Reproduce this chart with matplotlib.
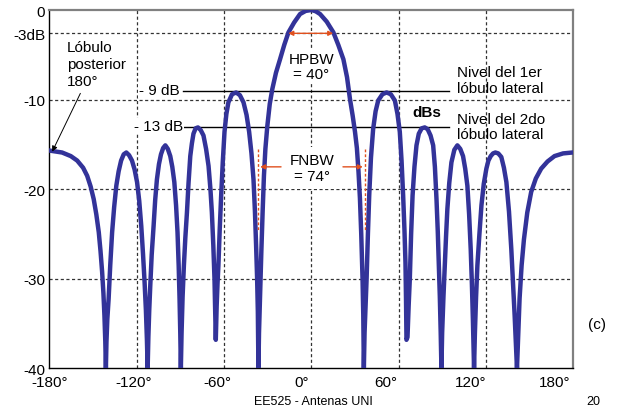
import numpy as np
import matplotlib
matplotlib.use('Agg')
import matplotlib.pyplot as plt

plt.rcParams['font.family'] = ['Liberation Sans', 'DejaVu Sans']

# Pattern: angle (deg) and level (dB)
tail_left_ang = [-180, -172, -166, -161.6, -157.5, -154.7, -152.3, -150.2, -148.4, -146.7,
                 -145.5, -144.4, -143.5, -142.8, -142.2, -141.8]
tail_left_db = [-15.7, -15.9, -16.3, -16.8, -17.6, -18.5, -19.7, -21.1, -22.8, -24.8,
                -26.9, -29.2, -31.6, -34.1, -37, -40]

lobe_l5_ang = [-141.4, -140.8, -139.9, -138.8, -137.5, -136.1, -134.6, -133, -131.3, -129.5, -127.7,
               -125.8, -123.8, -122, -120.3, -118.8, -117.4, -116.2, -115.1, -114.2, -113.5, -113.0]
lobe_l5_db = [-37, -34.5, -32.2, -28.5, -24.8, -22, -19.6, -18, -16.8, -16.1, -15.9,
              -16.2, -16.8, -17.8, -19.2, -21.3, -24.1, -27.2, -30.4, -33.5, -36.8, -40]

lobe_l4_ang = [-112.5, -111.9, -111.2, -110.2, -108.9, -107.8, -106.6, -105.2, -103.8, -102.3, -100.8,
               -99.1, -97.4, -96, -94.6, -93.4, -92.4, -91.6, -91.0, -90.5, -90.1]
lobe_l4_db = [-36.5, -33.5, -30.8, -27.3, -24.1, -21.2, -18.9, -17.2, -16.1, -15.4, -15.1,
              -15.5, -16.3, -17.5, -19.2, -21.8, -24.8, -28.5, -32.2, -36, -40]

lobe_l3_ang = [-89.6, -88.9, -88, -87, -85.9, -84.8, -83.6, -82.5, -81.4, -79.9, -78.3,
               -76.4, -74.5, -72.7, -71.0, -69.7, -68.7, -67.7, -66.9, -66.4, -66.0]
lobe_l3_db = [-36, -32, -28.5, -25.4, -22.6, -19.3, -16.3, -14.9, -13.8, -13.2, -13.1,
              -13.4, -14.0, -15.5, -17.4, -20, -22.6, -26.3, -30.0, -33.5, -36.8]

lobe_l2_ang = [-65.4, -64.8, -64.2, -63.3, -62.3, -61.2, -60.0, -58.7, -57.3, -54.8, -52.0,
               -49.4, -46.9, -44.8, -43.0, -41.4, -40.0, -39.0, -38.2, -37.5, -37.0, -36.6]
lobe_l2_db = [-33, -30.5, -28.5, -24.5, -20.7, -17, -13.6, -11.6, -10.3, -9.4, -9.2,
              -9.5, -10.3, -11.7, -13.6, -16, -18.9, -22.5, -26.3, -30, -33.7, -40]

main_ang = [-36.2, -35.5, -34.6, -33.7, -32.8, -31.8, -30.5, -28.8, -27, -24.5, -21.7, -18.8,
            -15.9, -12, -7.9, -4, 0, 3, 5.9, 10.5, 15.1, 18.5, 22, 24.5, 26.5, 28.4, 30,
            31.3, 32.4, 33.4, 34.3, 35.2, 35.7, 36.1]
main_db = [-36, -32, -27, -22.5, -18.5, -15.5, -13, -10.5, -8.8, -7, -5.5, -3.9,
           -2.5, -1.4, -0.45, -0.1, 0, -0.15, -0.45, -1.3, -2.5, -3.9, -5.5, -7.5, -9.9, -11.8, -13.6,
           -15.4, -18, -21, -25, -30, -34, -40]

lobe_r2_ang = [36.6, 37.3, 38.0, 38.9, 39.8, 41, 42.5, 44.2, 46.0, 48.9, 51.8,
               54.7, 57.5, 59.3, 60.9, 62.1, 63.2, 64.1, 64.8, 65.2, 65.5]
lobe_r2_db = [-36, -33, -30, -25, -20.7, -16.5, -13.3, -11.3, -10.1, -9.4, -9.2,
              -9.4, -10.1, -11.6, -13.6, -16.8, -20.7, -24.5, -28.2, -32.5, -36.8]

lobe_r3_ang = [66.2, 67, 67.8, 68.7, 69.7, 71, 72.4, 74, 76, 78.1,
               80.1, 82.1, 83.9, 85.1, 86.2, 87.1, 87.8, 88.5, 89.1, 89.6]
lobe_r3_db = [-36.5, -33, -30, -25, -20.7, -17.5, -15.1, -13.8, -13.2, -13.1,
              -13.3, -14, -15.1, -17.5, -21.1, -24.8, -28.5, -32, -36, -40]

lobe_r4_ang = [90.1, 91, 91.9, 92.8, 93.7, 95, 96.5, 98.5, 100.6,
               102.6, 104.5, 106, 107.5, 108.7, 109.8, 110.6, 111.3, 112.1]
lobe_r4_db = [-36, -32, -28.5, -25.2, -22.2, -19.3, -17.0, -15.6, -15.1,
              -15.5, -16.3, -17.7, -19.6, -22.8, -26.7, -30.5, -34.5, -40]

lobe_r5_ang = [112.7, 113.5, 114.4, 115.8, 117.2, 118.8, 120.6, 122, 123.6, 125.2, 126.8,
               128.8, 130.9, 132.7, 134.4, 136.2, 137.8, 139, 140.1, 140.9, 141.7]
lobe_r5_db = [-36, -32, -28.5, -25, -21.8, -19.4, -17.7, -16.8, -16.3, -16.0, -15.9,
              -16.0, -16.4, -17.6, -19.2, -22.5, -26.7, -30.5, -34.1, -37, -40]

tail_right_ang = [142.5, 143.5, 144.9, 146.5, 148.8, 151.5, 154.7, 158.4, 162.8, 167.6, 173.5, 180]
tail_right_db = [-36.5, -32.2, -28.5, -25.6, -22.6, -20.3, -18.8, -17.7, -16.9, -16.3, -16.0, -15.9]

angles = (tail_left_ang + lobe_l5_ang + lobe_l4_ang + lobe_l3_ang + lobe_l2_ang + main_ang
          + lobe_r2_ang + lobe_r3_ang + lobe_r4_ang + lobe_r5_ang + tail_right_ang)
levels = (tail_left_db + lobe_l5_db + lobe_l4_db + lobe_l3_db + lobe_l2_db + main_db
          + lobe_r2_db + lobe_r3_db + lobe_r4_db + lobe_r5_db + tail_right_db)

# axis labels
y_ticks = [0, -2.6, -10, -20, -30, -40]
y_labels = ['0', '-3dB', '-10', '-20', '-30', '-40']
x_grid = [-120, -60, 0, 60, 120]
x_labels = ['-180°', '-120°', '-60°', '0°', '60°', '120°', '180°']

blue = '#333399'
red = '#e0501e'

fig = plt.figure(figsize=(6.2, 4.14), dpi=100)
ax = fig.add_axes([0.0798, 0.1075, 0.8436, 0.8659])

ax.plot(angles, levels, color=blue, lw=3.2, solid_joinstyle='round', zorder=3)

ax.set_xlim(-180, 180)
ax.set_ylim(-40, 0)

ax.set_yticks(y_ticks)
ax.set_yticklabels(y_labels)
ax.set_xticks(np.linspace(-180.7, 167.6, len(x_labels)))
ax.set_xticklabels(x_labels)
ax.set_xticks(x_grid, minor=True)
ax.tick_params(axis='both', which='both', length=0, labelsize=11, colors='black')
ax.tick_params(axis='y', pad=3)
ax.tick_params(axis='x', pad=5)

for y in y_ticks[1:-1]:
    ax.axhline(y, color='#333333', lw=0.9, ls=(0, (2.5, 2)), zorder=1)
for x in x_grid:
    ax.axvline(x, color='#333333', lw=0.9, ls=(0, (2.5, 2)), zorder=1)

for side in ['top', 'right']:
    ax.spines[side].set_color('#808080')
    ax.spines[side].set_linewidth(1.6)
for side in ['left', 'bottom']:
    ax.spines[side].set_color('black')
    ax.spines[side].set_linewidth(1.0)

# side lobe level lines
ax.plot([-88.4, 94.6], [-9, -9], color='black', lw=1.0, zorder=2)
ax.plot([-88.4, 94.6], [-13, -13], color='black', lw=1.0, zorder=2)
ax.text(-91.2, -8.9, '- 9 dB', ha='right', va='center', fontsize=11, zorder=4,
        bbox=dict(facecolor='white', edgecolor='none', pad=0.5))
ax.text(-88.6, -12.9, '- 13 dB', ha='right', va='center', fontsize=11, zorder=4,
        bbox=dict(facecolor='white', edgecolor='none', pad=0.5))

ax.text(100.5, -7.8, 'Nivel del 1er\nlóbulo lateral', ha='left', va='center',
        fontsize=11, linespacing=1.15, zorder=4)
ax.text(100.5, -13.0, 'Nivel del 2do\nlóbulo lateral', ha='left', va='center',
        fontsize=11, linespacing=1.15, zorder=4)
ax.text(79.3, -11.4, 'dBs', ha='center', va='center', fontsize=11, fontweight='bold', zorder=4)

# back lobe
ax.text(-168.5, -6.0, 'Lóbulo\nposterior\n180°', ha='left', va='center',
        fontsize=11, linespacing=1.25, zorder=4)
ax.annotate('', xy=(-178.8, -15.8), xytext=(-159.4, -9.3),
            arrowprops=dict(arrowstyle='-|>', color='black', lw=0.7,
                            mutation_scale=8, shrinkA=0, shrinkB=0), zorder=4)

# HPBW
ax.text(-0.3, -6.3, 'HPBW\n= 40°', ha='center', va='center', fontsize=11,
        linespacing=1.15, zorder=4,
        bbox=dict(facecolor='white', edgecolor='none', pad=1.5))
ax.annotate('', xy=(-16.0, -2.6), xytext=(15.0, -2.6),
            arrowprops=dict(arrowstyle='<|-|>', color=red, lw=1.0,
                            mutation_scale=7, shrinkA=0, shrinkB=0), zorder=4)

# FNBW
ax.text(0.3, -17.6, 'FNBW\n= 74°', ha='center', va='center', fontsize=11,
        linespacing=1.15, zorder=4,
        bbox=dict(facecolor='white', edgecolor='none', pad=4.5))
for xv in [-37.0, 36.8]:
    ax.plot([xv, xv], [-15.5, -24.6], color=red, lw=1.0, ls=(0, (2, 1.5)), zorder=4)
ax.annotate('', xy=(-35.4, -17.5), xytext=(-21.0, -17.5),
            arrowprops=dict(arrowstyle='-|>', color=red, lw=1.0,
                            mutation_scale=7, shrinkA=0, shrinkB=0), zorder=4)
ax.annotate('', xy=(35.4, -17.5), xytext=(21.7, -17.5),
            arrowprops=dict(arrowstyle='-|>', color=red, lw=1.0,
                            mutation_scale=7, shrinkA=0, shrinkB=0), zorder=4)

fig.text(597 / 620, 1 - 325 / 414, '(c)', ha='center', va='center', fontsize=11)
fig.text(313 / 620, 1 - 402 / 414, 'EE525 - Antenas UNI', ha='center', va='center', fontsize=9)
fig.text(593 / 620, 1 - 402 / 414, '20', ha='center', va='center', fontsize=9)

fig.savefig('out.png', dpi=100)
